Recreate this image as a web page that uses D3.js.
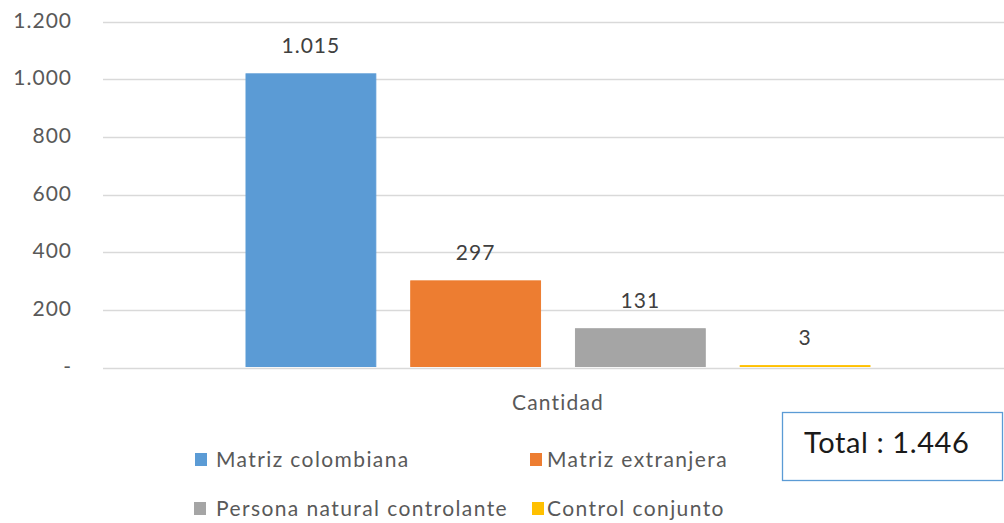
<!DOCTYPE html>
<html>
<head>
<meta charset="utf-8">
<script src="https://cdn.jsdelivr.net/npm/d3@7"></script>
<style>
  html, body { margin: 0; padding: 0; background: #fff; }
  text { font-family: Lato, "Open Sans", sans-serif; }
</style>
</head>
<body>
<div id="viz"></div>
<script>
const categories = ['Cantidad'];
const series = ['Matriz colombiana', 'Matriz extranjera', 'Persona natural controlante', 'Control conjunto'];
const values = [1015, 297, 131, 3];
const colors = ['#5B9BD5', '#ED7D31', '#A5A5A5', '#FFC000'];
const yTicks = [0, 200, 400, 600, 800, 1000, 1200];
const totalLabel = 'Total : 1.446';

const width = 1004, height = 523;
const loc = d3.formatLocale({ decimal: ',', thousands: '.', grouping: [3], currency: ['$', ''] });
const fmt = loc.format(',d');

const svg = d3.select('#viz').append('svg')
  .attr('width', width)
  .attr('height', height);

const y = d3.scaleLinear().domain([0, 1200]).range([367.5, 21.5]);
const x0 = d3.scaleBand().domain(categories).range([103, 1013]);
const x1 = d3.scaleBand().domain(series)
  .range([246 - x0('Cantidad'), 870 - x0('Cantidad')])
  .paddingInner(0.212);

// gridlines
svg.append('g').selectAll('line').data(yTicks).join('line')
  .attr('x1', 103).attr('x2', 1004)
  .attr('y1', d => Math.round(y(d)) + 0.5).attr('y2', d => Math.round(y(d)) + 0.5)
  .attr('stroke', '#d9d9d9').attr('stroke-width', 1.3);

// y tick labels
svg.append('g').selectAll('text').data(yTicks).join('text')
  .attr('x', 72).attr('y', d => y(d))
  .attr('dy', '0.3em')
  .attr('text-anchor', 'end')
  .attr('font-size', 21)
  .attr('letter-spacing', 1)
  .attr('fill', '#595959')
  .text(d => d === 0 ? '-' : fmt(d));

// bars
const g = svg.append('g');
categories.forEach(cat => {
  const cg = g.append('g').attr('transform', `translate(${x0(cat)},0)`);
  cg.selectAll('rect').data(values).join('rect')
    .attr('x', (d, i) => x1(series[i]))
    .attr('y', d => y(d) - 1)
    .attr('width', x1.bandwidth())
    .attr('height', d => y(0) - y(d))
    .attr('fill', (d, i) => colors[i])
    .attr('stroke', (d, i) => colors[i])
    .attr('stroke-width', 1);
  cg.selectAll('text').data(values).join('text')
    .attr('x', (d, i) => x1(series[i]) + x1.bandwidth() / 2)
    .attr('y', d => y(d) - 22)
    .attr('text-anchor', 'middle')
    .attr('font-size', 21)
    .attr('letter-spacing', 1)
    .attr('fill', '#404040')
    .text(d => fmt(d));
  svg.append('text')
    .attr('x', x0(cat) + (x1.range()[0] + x1.range()[1]) / 2)
    .attr('y', 410)
    .attr('text-anchor', 'middle')
    .attr('font-size', 21)
    .attr('letter-spacing', 1.2)
    .attr('fill', '#595959')
    .text(cat);
});

// legend
const legPos = [[195, 467], [530, 467], [194, 516], [532, 516]];
const legText = [216, 547, 216, 547];
const leg = svg.append('g');
series.forEach((s, i) => {
  const [lx, ly] = legPos[i];
  leg.append('rect').attr('x', lx).attr('y', ly - 14).attr('width', 12).attr('height', 13).attr('fill', colors[i]);
  leg.append('text').attr('x', legText[i]).attr('y', ly)
    .attr('font-size', 21).attr('letter-spacing', 1.4).attr('fill', '#595959').text(s);
});

// total box
svg.append('rect')
  .attr('x', 782.5).attr('y', 412.5).attr('width', 220).attr('height', 68)
  .attr('fill', '#fff').attr('stroke', '#5B9BD5').attr('stroke-width', 1.3);
svg.append('text')
  .attr('x', 804).attr('y', 453)
  .attr('font-size', 29).attr('letter-spacing', 0.6).attr('fill', '#1a1a1a')
  .text(totalLabel);
</script>
</body>
</html>
